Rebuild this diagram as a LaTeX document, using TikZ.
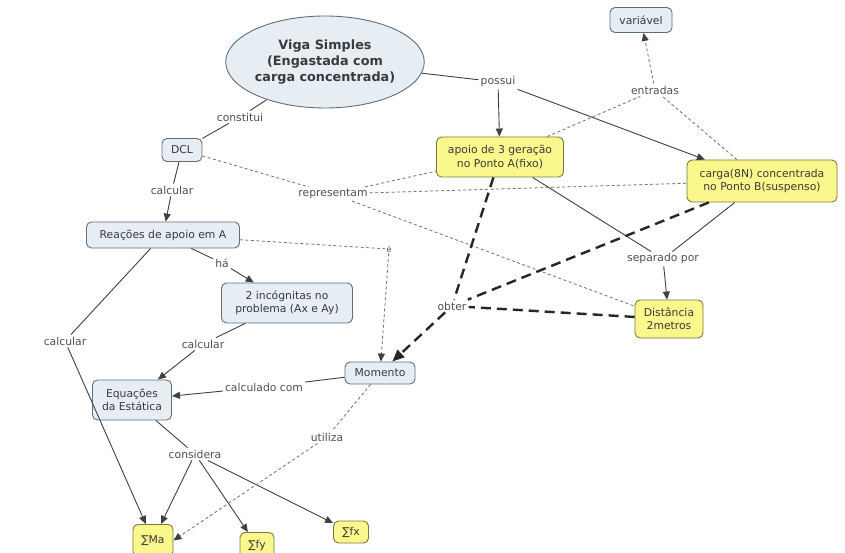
\documentclass[tikz,border=0pt]{standalone}
\usepackage{fontspec}
\newfontfamily\cf{DejaVu Sans}
\usetikzlibrary{arrows.meta,shapes.geometric}
\definecolor{bluefill}{HTML}{E6EEF4}
\definecolor{blueborder}{HTML}{5F6F7E}
\definecolor{yfill}{HTML}{FAF78C}
\definecolor{yborder}{HTML}{7D7A3C}
\definecolor{txt}{HTML}{3A3A3A}
\definecolor{labtxt}{HTML}{505050}
\definecolor{linecol}{HTML}{404040}
\definecolor{dashcol}{HTML}{707070}
\tikzset{
  concept/.style={draw=blueborder, fill=bluefill, rounded corners=5pt, text=txt,
    align=center, font=\cf\fontsize{10.8}{13.5}\selectfont, line width=0.9pt, inner sep=2pt},
  ybox/.style={concept, fill=yfill, draw=yborder},
  lab/.style={text=labtxt, font=\cf\fontsize{10.8}{13}\selectfont, inner sep=2pt},
  conn/.style={draw=linecol, line width=0.9pt},
  arr/.style={conn, -{Triangle[length=8pt,width=7pt]}},
  dsh/.style={draw=dashcol, line width=0.8pt, dash pattern=on 3pt off 2.5pt},
  dsharr/.style={dsh, -{Triangle[length=8pt,width=7pt,color=linecol]}},
  bigdash/.style={draw=black!85, line width=2.4pt, dash pattern=on 10pt off 6pt},
  bigdasharr/.style={bigdash, -{Triangle[length=12pt,width=10pt]}},
}
\begin{document}
\begin{tikzpicture}[x=1pt,y=-1pt]
\useasboundingbox[fill=white] (0,0) rectangle (845,553);

% concepts
\node[ellipse, draw=blueborder, fill=bluefill, line width=0.9pt, text=txt, align=center,
  minimum width=188pt, minimum height=92pt, inner sep=0pt,
  font=\cf\bfseries\fontsize{12.8}{16}\selectfont] (viga) at (325,62)
  {Viga Simples\\(Engastada com\\carga concentrada)};
\node[concept, minimum width=62pt, minimum height=25pt] (var) at (641,20) {variável};
\node[ybox, minimum width=127pt, minimum height=40pt] (apoio) at (500,157) {apoio de 3 geração\\no Ponto A(fixo)};
\node[ybox, minimum width=150pt, minimum height=42pt] (carga) at (762,181) {carga(8N) concentrada\\no Ponto B(suspenso)};
\node[concept, minimum width=40pt, minimum height=23pt] (dcl) at (182,150) {DCL};
\node[concept, minimum width=153pt, minimum height=26pt] (reac) at (163,235) {Reações de apoio em A};
\node[concept, minimum width=131pt, minimum height=40pt] (inc) at (287,303) {2 incógnitas no\\problema (Ax e Ay)};
\node[ybox, minimum width=68pt, minimum height=38pt] (dist) at (669,319) {Distância\\2metros};
\node[concept, minimum width=70pt, minimum height=22pt] (mom) at (380,373) {Momento};
\node[concept, minimum width=79pt, minimum height=40pt] (equ) at (132,400) {Equações\\da Estática};
\node[ybox, minimum width=40pt, minimum height=32pt, anchor=north] (sma) at (153,524) {∑Ma};
\node[ybox, minimum width=34pt, minimum height=26pt, anchor=north] (sfy) at (257,532) {∑fy};
\node[ybox, minimum width=35pt, minimum height=22pt] (sfx) at (351,532) {∑fx};

% linking phrases
\node[lab] (constitui) at (240,117) {constitui};
\node[lab] (possui) at (498,82) {possui};
\node[lab] (entradas) at (655,90) {entradas};
\node[lab] (calc1) at (172,190) {calcular};
\node[lab] (repr) at (333,194) {representam};
\node[lab, font=\cf\fontsize{8}{9}\selectfont, inner sep=1pt] (e) at (389,249) {é};
\node[lab] (ha) at (222,263) {há};
\node[lab] (sep) at (663,259) {separado por};
\node[lab] (obter) at (452,306) {obter};
\node[lab] (calc2) at (203,344) {calcular};
\node[lab] (calc3) at (65,341) {calcular};
\node[lab] (calccom) at (264,387) {calculado com};
\node[lab] (utiliza) at (327,437) {utiliza};
\node[lab] (considera) at (195,454) {considera};

% solid connectors
\draw[conn] (viga) -- (constitui);
\draw[conn] (constitui) -- (dcl);
\draw[conn] (viga) -- (possui);
\draw[arr] (possui) -- (apoio);
\draw[arr] (possui) -- (carga);
\draw[conn] (dcl) -- (calc1);
\draw[arr] (calc1) -- (reac);
\draw[conn] (reac) -- (ha);
\draw[arr] (ha) -- (inc);
\draw[conn] (reac) -- (calc3);
\draw[arr] (calc3) -- (sma);
\draw[conn] (inc) -- (calc2);
\draw[arr] (calc2) -- (equ);
\draw[conn] (mom) -- (calccom);
\draw[arr] (calccom) -- (equ);
\draw[conn] (equ) -- (considera);
\draw[arr] (considera) -- (sma);
\draw[arr] (considera) -- (sfy);
\draw[arr] (considera) -- (sfx);
\draw[conn] (apoio) -- (sep);
\draw[conn] (carga) -- (sep);
\draw[arr] (sep) -- (dist);

% dashed connectors
\draw[dsh] (dcl) -- (repr);
\draw[dsh] (repr) -- (apoio);
\draw[dsh] (repr) -- (carga);
\draw[dsh] (repr) -- (dist);
\draw[dsh] (apoio) -- (entradas);
\draw[dsh] (carga) -- (entradas);
\draw[dsharr] (entradas) -- (var);
\draw[dsh] (reac) -- (e);
\draw[dsharr] (e) -- (mom);
\draw[dsh] (mom) -- (utiliza);
\draw[dsharr] (utiliza) -- (sma.east);

% thick dashed
\draw[bigdash] (apoio) -- (obter);
\draw[bigdash] (carga) -- (obter);
\draw[bigdash] (dist) -- (obter);
\draw[bigdasharr] (obter) -- (mom);
\end{tikzpicture}
\end{document}
